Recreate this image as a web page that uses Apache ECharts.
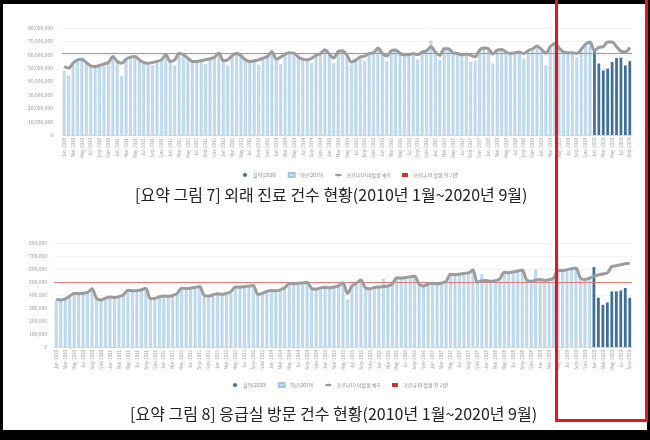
<!DOCTYPE html>
<html><head><meta charset="utf-8">
<script src="https://cdn.jsdelivr.net/npm/echarts@6/dist/echarts.min.js"></script>
<style>
html,body{margin:0;padding:0;width:650px;height:440px;overflow:hidden;background:#000;}
#panel{position:absolute;left:3px;top:4px;width:644px;height:426px;background:#fff;}
#chart{position:absolute;left:0;top:0;width:650px;height:440px;}
#hl{position:absolute;left:555px;top:-10px;width:87px;height:426px;border:3px solid #e8141c;}
</style></head><body>
<div id="panel"></div><div id="chart"></div><div id="hl"></div>
<script>
// ---- categories ----
const MONTHS = ['Jan','Feb','Mar','Apr','May','Jun','Jul','Aug','Sep','Oct','Nov','Dec'];
const YEARS = [2010,2011,2012,2013,2014,2015,2016,2017,2018,2019,2020];
const LAST_MONTHS_2020 = 9;

// ---- legend names ----
const NAME_2020 = '실적(2020)';
const NAME_PAST = '작년(2019)';
const NAME_FIT = '코로나19 미발생 예측';
const NAME_REF = '코로나19 발생 전 기준';

// ---- Chart 7: outpatient visits (millions) ----
const OUT_PAST = [
  48, 44.5, 53, 55.5, 56, 53.5, 51, 50.5, 51, 52.5, 53.5, 58,
  54, 44, 56, 57.5, 58, 55.5, 53.5, 53, 52, 54.5, 55.5, 59.5,
  54.5, 52, 60.5, 59.5, 57, 54.5, 54.5, 55, 53, 56.5, 57.5, 60.5,
  55, 52, 58.5, 60.5, 58.5, 55.5, 54.5, 55, 52.5, 57, 58, 62,
  56, 53, 60, 61, 60.5, 57.5, 56, 55.5, 54, 59, 60.5, 63,
  60, 53.5, 62, 62.5, 59, 52.5, 55.5, 58, 55, 60.5, 61, 64.5,
  60.5, 55, 62.5, 63, 60.5, 59.5, 59.5, 60.5, 56.5, 61.5, 62.5, 70.5,
  61.5, 56, 64, 64, 61, 60.5, 59.5, 60, 54.5, 55.5, 63, 64.5,
  64, 53.5, 63, 63.5, 61.5, 60.5, 61, 61.5, 57, 62.5, 64, 66,
  63.5, 52, 65.5, 68, 64.5, 61.5, 61, 61, 58, 63.5, 67.5, 69
];
const OUT_2020 = [64, 53.4, 48.3, 49.6, 54.6, 57.5, 57.8, 52, 55.2];
const OUT_FIT = [
  51.2, 50, 53.7, 56.2, 56.7, 54.2, 51.7, 51.2, 52, 53.2, 54.2, 58.7,
  55, 53.7, 56.7, 58.2, 58.7, 56.2, 54.2, 53.7, 54.2, 55, 56.2, 60,
  55, 56.2, 61.2, 60, 57.5, 55, 55, 55.7, 56.2, 57, 58.2, 61.2,
  55.5, 56.2, 59.2, 61.2, 59.2, 56.2, 55, 55.5, 56.2, 57.5, 58.7, 62.5,
  56.7, 58.2, 60.5, 61.5, 61.2, 58.2, 56.7, 56.2, 57.5, 59.5, 61, 63.7,
  60.5, 57.5, 62.5, 63, 59.5, 54.5, 56, 58.5, 59, 61, 61.5, 65,
  61, 59, 63, 63.5, 61, 60, 60, 61, 60, 62, 63, 66,
  62, 59.5, 64.5, 64.5, 61.5, 61, 60, 60.5, 59.5, 58.5, 63.5, 65,
  64.5, 60.5, 63.5, 64, 62, 61, 61.5, 62, 61, 63, 64.5, 66.5,
  64, 61, 66, 68.5, 65, 62, 61.5, 61.5, 61, 64, 68, 69.5,
  63, 65.5, 66, 69.5, 69.5, 66, 62.5, 62, 65.5
];
const OUT_REF = 61;
const OUT_TICKS = {min: 0, max: 80, interval: 10, unit: 1000000};

// ---- Chart 8: ER visits (thousands) ----
const ER_PAST = [
  360, 356, 366, 388, 408, 405, 410, 416, 455, 370, 357, 372,
  380, 375, 384, 398, 432, 428, 430, 436, 458, 366, 370, 382,
  388, 386, 392, 408, 448, 446, 449, 455, 470, 393, 388, 398,
  405, 402, 408, 424, 458, 456, 460, 466, 478, 400, 408, 424,
  430, 428, 436, 450, 484, 482, 486, 490, 500, 445, 440, 450,
  455, 450, 458, 466, 490, 365, 465, 488, 518, 450, 444, 454,
  458, 525, 464, 480, 528, 526, 530, 536, 548, 476, 466, 480,
  486, 480, 488, 500, 554, 552, 556, 562, 566, 605, 494, 560,
  508, 500, 506, 520, 570, 568, 574, 580, 590, 510, 500, 595,
  515, 508, 514, 525, 586, 584, 590, 598, 606, 525, 514, 526
];
const ER_2020 = [615, 379, 325, 343, 428, 428, 435, 454, 379];
const ER_FIT = [
  365, 362, 370, 392, 412, 410, 414, 420, 448, 375, 362, 376,
  384, 380, 388, 402, 436, 432, 434, 440, 452, 372, 374, 386,
  393, 390, 396, 412, 452, 450, 453, 458, 466, 398, 392, 402,
  410, 405, 412, 428, 462, 460, 464, 470, 474, 404, 412, 428,
  435, 432, 440, 455, 488, 486, 490, 494, 497, 450, 445, 455,
  460, 455, 462, 470, 495, 412, 470, 492, 515, 455, 448, 458,
  462, 465, 468, 485, 532, 530, 535, 540, 545, 480, 470, 485,
  490, 485, 492, 505, 558, 556, 560, 566, 570, 590, 498, 510,
  512, 505, 510, 525, 575, 572, 578, 585, 592, 515, 505, 515,
  520, 512, 518, 530, 590, 588, 595, 602, 608, 530, 518, 530,
  543, 556, 562, 570, 620, 625, 632, 640, 645
];
const ER_REF = 497;
const ER_TICKS = {min: 0, max: 800, interval: 100, unit: 1000};

const CAPTION_7 = '[요약 그림 7] 외래 진료 건수 현황(2010년 1월~2020년 9월)';
const CAPTION_8 = '[요약 그림 8] 응급실 방문 건수 현황(2010년 1월~2020년 9월)';

// ---- build ----
const CATS = [];
YEARS.forEach(y => MONTHS.forEach((m, i) => {
  if (y < 2020 || i < LAST_MONTHS_2020) CATS.push(m + '-' + y);
}));
const pad = n => new Array(n).fill(null);

const LIGHT = '#c3dcef', LIGHT_B = '#a3c6e1', DARK = '#3f6e98', GRAY = '#9c9c9c', RED = '#e27a7a';
const FONT = '"Noto Sans CJK KR", "Noto Sans", sans-serif';

function xAxis(gi) {
  return {type: 'category', gridIndex: gi, data: CATS, boundaryGap: true,
    axisTick: {show: false}, axisLine: {lineStyle: {color: '#d0d0d0', width: 0.8}},
    axisLabel: {rotate: 90, fontSize: 4.5, color: '#a0a0a0', interval: 1, margin: 3, fontFamily: FONT}};
}
function yAxis(gi, t, margin) {
  return {type: 'value', gridIndex: gi, min: t.min, max: t.max, interval: t.interval,
    axisLine: {show: false}, axisTick: {show: false},
    splitLine: {lineStyle: {color: '#f0f0f0', width: 0.8}},
    axisLabel: {fontSize: 5, color: '#9a9a9a', margin: margin, fontFamily: FONT,
      formatter: v => (v * t.unit).toLocaleString('en-US')}};
}
function seriesFor(gi, past, cur, fit, ref) {
  return [
    {name: NAME_PAST, type: 'bar', xAxisIndex: gi, yAxisIndex: gi, data: past.concat(pad(cur.length)),
      barWidth: '62%', barGap: '-100%', itemStyle: {color: LIGHT, borderColor: LIGHT_B, borderWidth: 0.5}},
    {name: NAME_2020, type: 'bar', xAxisIndex: gi, yAxisIndex: gi, data: pad(past.length).concat(cur),
      barWidth: '62%', barGap: '-100%', itemStyle: {color: DARK}},
    {name: NAME_FIT, type: 'line', xAxisIndex: gi, yAxisIndex: gi, data: fit, smooth: 0.3,
      showSymbol: false, symbol: 'none', lineStyle: {color: GRAY, width: 3}, itemStyle: {color: GRAY}, z: 5},
    {name: NAME_REF, type: 'line', xAxisIndex: gi, yAxisIndex: gi, data: [], itemStyle: {color: '#c0392b'},
      lineStyle: {color: RED}, z: 4,
      markLine: {silent: true, symbol: 'none', label: {show: false},
        lineStyle: {color: RED, width: 1, type: 'solid'}, data: [{yAxis: ref}]}}
  ];
}
function legend(left, top) {
  return {left: left, top: top, itemWidth: 6, itemHeight: 4, itemGap: 11,
    textStyle: {fontSize: 5, color: '#8a8a8a', fontFamily: FONT},
    data: [{name: NAME_2020, icon: 'circle'}, {name: NAME_PAST, icon: 'rect'},
           {name: NAME_FIT}, {name: NAME_REF, icon: 'rect'}]};
}

const chart = echarts.init(document.getElementById('chart'), null, {renderer: 'canvas'});
chart.setOption({
  backgroundColor: 'transparent',
  animation: false,
  title: [
    {text: CAPTION_7, left: 130, top: 182, textStyle: {fontSize: 16, fontWeight: 'normal', color: '#222', fontFamily: FONT}},
    {text: CAPTION_8, left: 125, top: 401, textStyle: {fontSize: 16, fontWeight: 'normal', color: '#222', fontFamily: FONT}}
  ],
  legend: [legend(238, 167), legend(228, 377)],
  grid: [
    {left: 62, top: 28, width: 570, height: 107},
    {left: 54, top: 243, width: 578, height: 104}
  ],
  xAxis: [xAxis(0), xAxis(1)],
  yAxis: [yAxis(0, OUT_TICKS, 9), yAxis(1, ER_TICKS, 7)],
  series: seriesFor(0, OUT_PAST, OUT_2020, OUT_FIT, OUT_REF)
    .concat(seriesFor(1, ER_PAST, ER_2020, ER_FIT, ER_REF))
});
</script>
</body></html>
